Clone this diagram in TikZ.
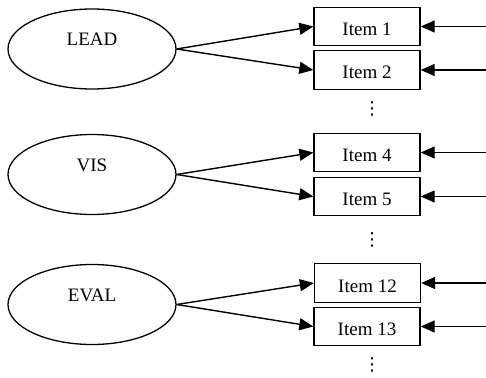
\documentclass[tikz,border=0pt]{standalone}
\usepackage{fontspec}
\setmainfont{Liberation Serif}
\newfontfamily\dotsfont{DejaVu Sans}
\usetikzlibrary{arrows.meta,shapes.geometric}
\begin{document}
\begin{tikzpicture}[x=1pt,y=-1pt,
  every node/.style={font=\fontsize{19}{22}\selectfont},
  factor/.style={draw,ellipse,line width=1.3pt,minimum width=168pt,minimum height=80pt,inner sep=0pt,text height=13pt,text depth=19.4pt},
  item/.style={draw,rectangle,line width=1.4pt,minimum width=106pt,minimum height=38.5pt,inner sep=0pt,text height=18pt,text depth=0pt},
  dots/.style={inner sep=0pt,font=\dotsfont\fontsize{18}{20}\selectfont},
  link/.style={line width=1.4pt,-{Triangle[length=14pt,width=12pt]}}
]
\useasboundingbox (0,0) rectangle (486,377);
% factors
\node[factor] (lead) at (92,49) {LEAD};
\node[factor] (vis) at (92,174.5) {VIS};
\node[factor] (eval) at (92,304.5) {EVAL};
% items
\node[item] (i1) at (367,26.5) {Item 1};
\node[item] (i2) at (367,70) {Item 2};
\node[item] (i4) at (367,152.5) {Item 4};
\node[item] (i5) at (367,196.5) {Item 5};
\node[item] (i12) at (367.5,283) {Item 12};
\node[item] (i13) at (367,326.5) {Item 13};
% dots
\node[dots] (d1) at (372,109) {⋮};
\node[dots] (d2) at (372,240) {⋮};
\node[dots] (d3) at (372,365) {⋮};
% free ends
\coordinate (e1) at (486,26.5);
\coordinate (e2) at (486,70);
\coordinate (e4) at (486,152.5);
\coordinate (e5) at (486,196.5);
\coordinate (e12) at (486,283);
\coordinate (e13) at (486,326.5);
% connectors
\draw[link] (lead.east) -- (i1.west);
\draw[link] (lead.east) -- (i2.west);
\draw[link] (vis.east) -- (i4.west);
\draw[link] (vis.east) -- (i5.west);
\draw[link] (eval.east) -- (i12.west);
\draw[link] (eval.east) -- (i13.west);
\draw[link] (e1) -- (i1.east);
\draw[link] (e2) -- (i2.east);
\draw[link] (e4) -- (i4.east);
\draw[link] (e5) -- (i5.east);
\draw[link] (e12) -- (i12.east);
\draw[link] (e13) -- (i13.east);
\end{tikzpicture}
\end{document}
